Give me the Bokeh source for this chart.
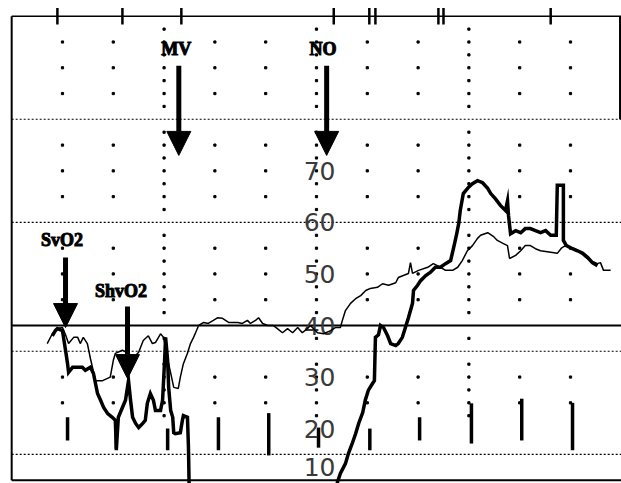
from bokeh.plotting import figure
from bokeh.models import Range1d, Arrow, NormalHead, ColumnDataSource
from bokeh.core.properties import value
from bokeh.embed import file_html
from bokeh.resources import INLINE

# --- recorded traces (time in minutes, saturation in %) ---
svo2_t = [7.0, 8.0, 9.0, 10.0, 10.6, 11.2, 12.2, 13.0, 13.5, 14.1, 14.9, 15.5, 16.5, 17.9,
          19.4, 20.0, 20.4, 21.8, 23.0, 24.0, 25.0, 25.9, 26.9, 27.7, 28.3, 29.3, 29.9, 30.9,
          31.9, 32.8, 33.2, 33.8, 34.6, 35.2, 35.8, 36.2, 36.8, 37.8, 38.7, 39.7, 40.5, 41.5,
          42.7, 44.5, 45.4, 46.4, 47.0, 48.0, 48.6, 49.4, 50.4, 51.5, 52.3, 53.3, 54.3, 55.3,
          56.3, 57.2, 58.2, 58.8, 60.2, 61.4, 62.8, 63.7, 64.7, 65.1, 65.7, 66.7, 67.7, 68.7,
          69.7, 70.6, 72.0, 73.0, 74.2, 75.6, 76.1, 77.1, 78.1, 78.5, 78.9, 80.1, 81.9, 83.0,
          84.4, 85.4, 86.8, 87.8, 88.7, 89.7, 90.7, 91.7, 92.3, 93.7, 94.8, 95.6, 96.8, 97.6,
          98.0, 99.2, 100.2, 101.1, 102.1, 103.1, 104.1, 106.1, 107.4, 108.2, 109.0, 110.0,
          111.0, 112.0, 113.0, 113.9, 115.3, 115.9, 116.5, 117.9]
svo2 = [36.5, 38.4, 39.4, 39.6, 38.2, 36.5, 37.7, 37.7, 36.5, 37.7, 36.5, 33.6, 29.3, 29.3,
        30.0, 33.2, 34.6, 35.2, 34.6, 33.8, 34.8, 37.1, 38.0, 36.5, 36.7, 38.4, 37.7, 32.6,
        28.0, 27.8, 30.0, 32.6, 34.6, 36.5, 37.7, 38.6, 40.0, 40.6, 40.4, 41.0, 41.5, 41.4,
        40.6, 40.6, 40.4, 41.0, 40.4, 41.0, 41.5, 40.4, 40.0, 40.0, 39.4, 38.6, 39.4, 38.6,
        39.6, 38.6, 39.4, 40.0, 38.6, 38.4, 39.0, 39.6, 39.6, 41.0, 42.9, 44.3, 45.2, 45.8,
        46.8, 47.2, 47.4, 48.1, 47.8, 48.3, 49.3, 49.7, 50.1, 52.2, 50.1, 50.7, 51.3, 52.0,
        51.3, 50.7, 50.7, 51.3, 52.6, 54.5, 55.5, 56.9, 57.5, 58.0, 57.3, 56.5, 55.9, 55.5,
        53.0, 53.6, 54.5, 55.5, 55.5, 54.9, 54.5, 54.2, 54.0, 55.0, 55.5, 55.1,
        54.5, 54.2, 53.2, 52.6, 52.0, 52.2, 50.7, 50.7]

# ShvO2 runs off the bottom of the scale between ~35 and ~64 min (pegged at 5)
shvo2_t = [8.0, 8.6, 9.0, 10.0, 10.6, 11.0, 11.2, 12.0, 13.0, 13.9, 14.5, 15.5, 16.1, 16.9,
           17.5, 18.1, 18.9, 19.8, 20.4, 20.6, 21.0, 21.8, 22.4, 23.0, 23.4, 23.8, 24.4, 25.0,
           25.8, 26.3, 26.7, 27.3, 27.9, 28.3, 29.3, 29.7, 29.9, 30.1, 30.3, 30.7, 30.9, 31.3,
           31.7, 31.9, 32.2, 33.2, 33.6, 33.8, 34.6, 34.8, 35.0, 63.5, 64.1, 64.7, 65.7, 66.3,
           67.1, 67.7, 68.3, 69.1, 69.6, 70.2, 71.0, 71.4, 71.6, 72.2, 72.6, 73.2, 74.0, 74.6,
           75.6, 76.1, 76.9, 77.5, 78.1, 78.9, 79.1, 79.9, 80.5, 81.5, 82.4, 83.4, 84.4, 85.4,
           86.4, 87.0, 87.6, 88.0, 88.3, 88.9, 89.9, 90.7, 91.7, 92.7, 93.7, 94.3, 95.2, 96.2,
           97.2, 97.6, 97.8, 98.2, 99.2, 100.2, 101.1, 102.1, 103.1, 104.1, 105.1, 106.1, 107.2,
           107.4, 108.6, 108.6, 109.2, 110.4, 111.4, 112.4, 113.4, 114.3, 115.3]
shvo2 = [38.0, 39.0, 39.4, 39.0, 35.2, 32.6, 30.9, 31.9, 31.9, 31.9, 31.3, 31.9, 30.7, 26.8,
         25.5, 24.1, 22.9, 22.2, 21.6, 16.1, 22.2, 24.1, 25.5, 29.3, 25.5, 22.2, 21.0, 20.2,
         21.0, 21.6, 24.9, 26.8, 25.5, 23.5, 23.5, 25.5, 29.3, 33.2, 37.7, 33.2, 28.0, 23.5,
         22.2, 19.2, 19.0, 19.2, 21.6, 22.5, 22.2, 16.3, 5.0, 5.0, 9.5, 11.3, 13.2, 15.2,
         17.3, 19.0, 21.0, 23.1, 25.5, 27.4, 28.7, 29.3, 37.7, 38.2, 40.0, 39.6, 38.0, 36.5,
         36.1, 36.5, 37.7, 39.6, 41.5, 44.3, 46.8, 47.8, 48.7, 49.7, 50.3, 51.3, 51.3, 52.0,
         52.6, 55.1, 57.8, 59.8, 62.3, 65.6, 66.8, 67.5, 68.1, 67.7, 66.6, 65.6, 64.6, 63.3,
         62.3, 64.2, 61.3, 57.8, 58.4, 58.0, 58.8, 58.8, 58.4, 58.0, 58.4, 57.5, 57.5,
         67.2, 67.2, 56.5, 55.5, 54.9, 54.5, 54.0, 53.2, 52.2, 51.6]

# --- event marks along the bottom of the strip ---
event_t = [11.0, 20.6, 30.7, 40.7, 50.6, 60.4, 70.5, 80.3, 90.5, 100.4, 110.4]
event_top = [22.2, 20.2, 20.0, 22.2, 23.0, 20.2, 20.0, 22.2, 24.9, 25.8, 25.0]
event_bottom = [17.7, 15.8, 15.8, 15.8, 14.8, 16.3, 15.8, 17.7, 17.1, 17.7, 15.8]

# --- time marks on the top edge ---
top_ticks = [9.0, 21.8, 33.4, 63.4, 70.4, 71.6, 84.0, 85.0, 106.1]

# --- scale ---
scale_values = [70, 60, 50, 40, 30, 20, 10]
scale_labels = ["70", "60", "50", "40", "30", "20", "10"]
dotted_levels = [80, 60, 35, 15]
baseline_level = 40
grid_columns = [10, 20, 30, 40, 50, 60, 70, 80, 90, 100, 110]
dense_columns = [30, 60, 90]
grid_rows = [95, 90, 85, 75, 70, 65, 55, 50, 45, 30, 25]

# --- annotations ---
marker_names = ["MV", "NO", "SvO2", "ShvO2"]
marker_x = [32.9, 62.0, 10.6, 22.8]
marker_start = [90.4, 90.4, 53.2, 43.7]
marker_end = [73.0, 73.0, 39.6, 29.7]
marker_label_x = [32.4, 61.3, 9.9, 21.5]
marker_label_y = [93.7, 93.7, 56.5, 46.7]

T0, T1 = 0, 120
V0, V1 = 10, 100

p = figure(width=621, height=483, output_backend="svg", toolbar_location=None,
           x_range=Range1d(-2.2, 120.04), y_range=Range1d(9.35, 103.05),
           x_axis_location=None, y_axis_location=None, min_border=0)
p.grid.visible = False
p.outline_line_color = None
p.background_fill_color = "white"
p.border_fill_color = "white"

# dot grid
gx, gy = [], []
for c in grid_columns:
    rows = grid_rows
    if c in dense_columns:
        rows = [v / 2 for v in range(45, 200, 5) if v / 2 not in (40, 35, 15, 60, 80)]
    for r in rows:
        gx.append(c)
        gy.append(r)
p.scatter(gx, gy, marker="square", size=2.2, color="black")

# dotted reference levels and solid baseline
for lvl in dotted_levels:
    p.line([T0, T1], [lvl, lvl], line_color="black", line_width=1.1, line_dash="2 2")
p.line([T0, T1], [baseline_level, baseline_level], line_color="black", line_width=2)

# frame: top, left, bottom, partial right
p.line([T0, T1], [V1, V1], line_color="black", line_width=1.6)
p.line([T0, T0], [V0, V1], line_color="black", line_width=2)
p.line([T0, T1], [V0, V0], line_color="black", line_width=2)
p.line([T1 - 0.25, T1 - 0.25], [80, V1], line_color="black", line_width=2)
p.segment(x0=top_ticks, y0=[V1 - 1.6] * len(top_ticks), x1=top_ticks,
          y1=[V1 + 1.6] * len(top_ticks), line_color="black", line_width=2.5)

# event bars
p.segment(x0=event_t, y0=event_bottom, x1=event_t, y1=event_top,
          line_color="black", line_width=3.5)

# scale numbers (the lowest one is kept just inside the bottom edge)
label_y = [max(v, 12.5) for v in scale_values]
p.text(x=[60.6] * len(scale_values), y=label_y, text=scale_labels,
       text_font=value("DejaVu Sans"), text_font_size="25px", text_color="#3a3a3a",
       text_align="center", text_baseline="middle")

# traces
p.line(svo2_t, svo2, line_color="black", line_width=1.5)
p.line(shvo2_t, shvo2, line_color="black", line_width=3.5, line_join="miter")

# arrows and their labels
for xs, ys, ye in zip(marker_x, marker_start, marker_end):
    p.add_layout(Arrow(end=NormalHead(size=24, fill_color="black", line_color="black"),
                       x_start=xs, y_start=ys, x_end=xs, y_end=ye,
                       line_color="black", line_width=5))
src = ColumnDataSource(dict(x=marker_label_x, y=marker_label_y, t=marker_names))
p.text(x="x", y="y", text="t", source=src, text_font=value("Liberation Serif"),
       text_font_style="bold", text_font_size="18px", text_color="black",
       text_outline_color="black", text_align="center", text_baseline="middle")

open("out.html", "w").write(file_html(p, INLINE))
